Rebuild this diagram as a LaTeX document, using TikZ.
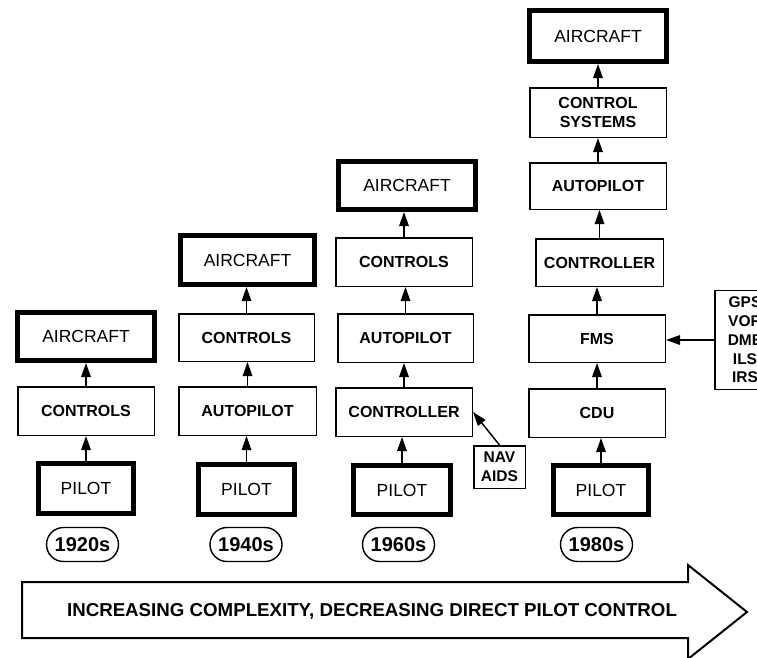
\documentclass[tikz,border=0pt]{standalone}
\usepackage{fontspec}
\setmainfont{Liberation Sans}
\usetikzlibrary{arrows.meta}
\tikzset{
  base/.style={draw=black, align=center, inner sep=0pt, text=black},
  thickbox/.style={base, line width=5pt, font=\fontsize{17.5}{20}\selectfont},
  thinbox/.style={base, line width=1.5pt, font=\bfseries\fontsize{16}{19}\selectfont},
  sidebox/.style={base, line width=1.5pt, font=\bfseries\fontsize{15.5}{18.7}\selectfont},
  yearbox/.style={base, line width=1.4pt, rounded corners=17pt, minimum width=72pt, minimum height=34pt, font=\bfseries\fontsize{20}{22}\selectfont},
  arr/.style={line width=1.5pt, -{Triangle[length=14pt,width=9.5pt]}},
  bigarrow/.style={draw=black, line width=2pt, fill=white, line join=miter}
}
\begin{document}
\begin{tikzpicture}[x=1pt,y=-1pt]
\useasboundingbox (0,0) rectangle (757,657);
% 1920s
\node[thickbox, minimum width=137pt, minimum height=48pt] (air1) at (86,336.5) {AIRCRAFT};
\node[thinbox, minimum width=136.5pt, minimum height=48.5pt] (con1) at (86,411) {CONTROLS};
\node[thickbox, minimum width=95pt, minimum height=50pt] (pil1) at (86,488.5) {PILOT};
\node[yearbox] (yr1) at (82.5,544.5) {1920s};
% 1940s
\node[thickbox, minimum width=134pt, minimum height=49pt] (air2) at (247.5,260) {AIRCRAFT};
\node[thinbox, minimum width=135.5pt, minimum height=47.5pt] (con2) at (246.5,337.5) {CONTROLS};
\node[thinbox, minimum width=137.5pt, minimum height=48.5pt] (aut2) at (247.5,411) {AUTOPILOT};
\node[thickbox, minimum width=96pt, minimum height=50pt] (pil2) at (246.5,489.5) {PILOT};
\node[yearbox] (yr2) at (246,544.5) {1940s};
% 1960s
\node[thickbox, minimum width=137pt, minimum height=48pt] (air3) at (407,185.5) {AIRCRAFT};
\node[thinbox, minimum width=136.5pt, minimum height=48.5pt] (con3) at (404,262) {CONTROLS};
\node[thinbox, minimum width=135.5pt, minimum height=48.5pt] (aut3) at (405.5,338) {AUTOPILOT};
\node[thinbox, minimum width=136.5pt, minimum height=48.5pt] (ctl3) at (404,412) {CONTROLLER};
\node[sidebox, minimum width=51.5pt, minimum height=42.5pt] (nav) at (499.5,467) {NAV\\AIDS};
\node[thickbox, minimum width=97pt, minimum height=49pt] (pil3) at (402,490) {PILOT};
\node[yearbox] (yr3) at (398.5,544.5) {1960s};
% 1980s
\node[thickbox, minimum width=137pt, minimum height=51pt] (air4) at (598,36) {AIRCRAFT};
\node[thinbox, minimum width=136.5pt, minimum height=49.5pt] (cs4) at (598,112.5) {CONTROL\\SYSTEMS};
\node[thinbox, minimum width=136.5pt, minimum height=46.5pt] (aut4) at (598,186) {AUTOPILOT};
\node[thinbox, minimum width=127.5pt, minimum height=47.5pt] (ctl4) at (599.5,262.5) {CONTROLLER};
\node[thinbox, minimum width=136.5pt, minimum height=47.5pt] (fms4) at (597,338.5) {FMS};
\node[thinbox, minimum width=136.5pt, minimum height=48.5pt] (cdu4) at (597,413) {CDU};
\node[thickbox, minimum width=95pt, minimum height=49pt] (pil4) at (601,490) {PILOT};
\node[yearbox] (yr4) at (596.5,544.5) {1980s};
\node[sidebox, minimum width=60pt, minimum height=99pt] (gps) at (745,340) {GPS\\VOR\\DME\\ILS\\IRS};
% connectors
\foreach \a/\b in {pil1/con1, con1/air1, pil2/aut2, aut2/con2, con2/air2,
                   pil3/ctl3, ctl3/aut3, aut3/con3, con3/air3,
                   pil4/cdu4, cdu4/fms4, fms4/ctl4, ctl4/aut4, aut4/cs4, cs4/air4}
  \draw[arr] (\a.north) -- (\a.north |- \b.south);
\draw[arr] (nav.north) -- (ctl3.east);
\draw[arr] (gps.west) -- (gps.west -| fms4.east);
% big arrow
\draw[bigarrow] (22,582) -- (688,582) -- (688,565) -- (747,612) -- (688,659) -- (688,638) -- (22,638) -- cycle;
\node[font=\bfseries\fontsize{18.7}{21}\selectfont, inner sep=0pt] (lbl) at (372,611) {INCREASING COMPLEXITY, DECREASING DIRECT PILOT CONTROL};
\end{tikzpicture}
\end{document}
